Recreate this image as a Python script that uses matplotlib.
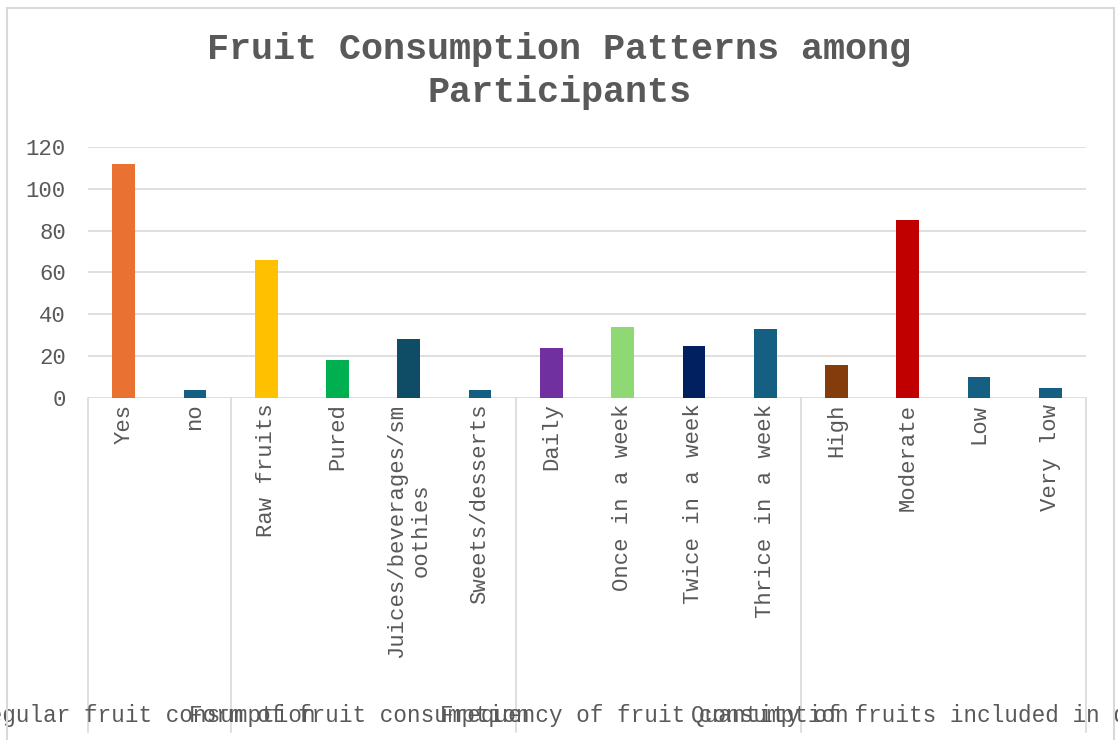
import matplotlib.pyplot as plt
from matplotlib import patches, transforms

plt.rcParams['font.family'] = ['Liberation Mono', 'DejaVu Sans Mono']

# chart data
categories = ['Yes', 'no', 'Raw fruits', 'Pured', 'Juices/beverages/sm\noothies',
              'Sweets/desserts', 'Daily', 'Once in a week', 'Twice in a week',
              'Thrice in a week', 'High', 'Moderate', 'Low', 'Very low']
counts = [112, 4, 66, 18, 28, 4, 24, 34, 25, 33, 16, 85, 10, 5]
bar_colors = ['#E97132', '#156082', '#FFC000', '#00B050', '#0F4C66', '#156082',
              '#7030A0', '#8ED973', '#002060', '#156082', '#843C0C', '#C00000',
              '#156082', '#156082']
groups = ['Regular fruit consumption', 'Form of fruit consumption',
          'Frequency of fruit consumption', 'Quantity of fruits included in diet']
group_sizes = [2, 4, 4, 4]
yticks = [0, 20, 40, 60, 80, 100, 120]

text_color = '#595959'
line_color = '#D9D9D9'

fig = plt.figure(figsize=(11.18, 7.40), dpi=100)
ax = fig.add_axes([88 / 1118, 1 - 398 / 740, (1086 - 88) / 1118, (398 - 147) / 740])

x = list(range(len(categories)))
ax.bar(x, counts, width=0.32, color=bar_colors, zorder=3)

ax.set_xlim(-0.5, len(categories) - 0.5)
ax.set_ylim(0, 120)
ax.set_yticks(yticks)
ax.yaxis.grid(True, color=line_color, linewidth=1.2, zorder=0)
ax.tick_params(axis='y', length=0, pad=16, labelsize=16, labelcolor=text_color)
ax.set_xticks(x)
ax.set_xticklabels(categories, rotation=90, va='top', ha='center',
                   multialignment='center', fontsize=16, color=text_color)
ax.tick_params(axis='x', length=0, pad=4)
for s in ax.spines.values():
    s.set_visible(False)

# category box lines below the axis
trans = transforms.blended_transform_factory(ax.transData, ax.transAxes)
bottom = (398 - 732) / 251
edges = [-0.5]
for n in group_sizes:
    edges.append(edges[-1] + n)
for e in edges:
    ax.plot([e, e], [0, bottom], transform=trans, color=line_color,
            linewidth=1.2, clip_on=False)

# group labels, centred under each group and overflowing as in the original
label_y = (398 - 716) / 251
for i, g in enumerate(groups):
    cx = (edges[i] + edges[i + 1]) / 2 - 0.2
    ax.text(cx, label_y, g, transform=trans, ha='center', va='center',
            fontsize=16.3, color=text_color)

fig.text(0.5, 1 - 71 / 740, 'Fruit Consumption Patterns among\nParticipants',
         ha='center', va='center', fontsize=26.5, fontweight='bold',
         color=text_color, linespacing=1.3)

# outer chart border
fig.patches.append(patches.Rectangle((7 / 1118, -0.02), (1114 - 7) / 1118, 1.02 - 8 / 740,
                                     transform=fig.transFigure, fill=False,
                                     edgecolor=line_color, linewidth=1.5))

plt.savefig('out.png', dpi=100)
